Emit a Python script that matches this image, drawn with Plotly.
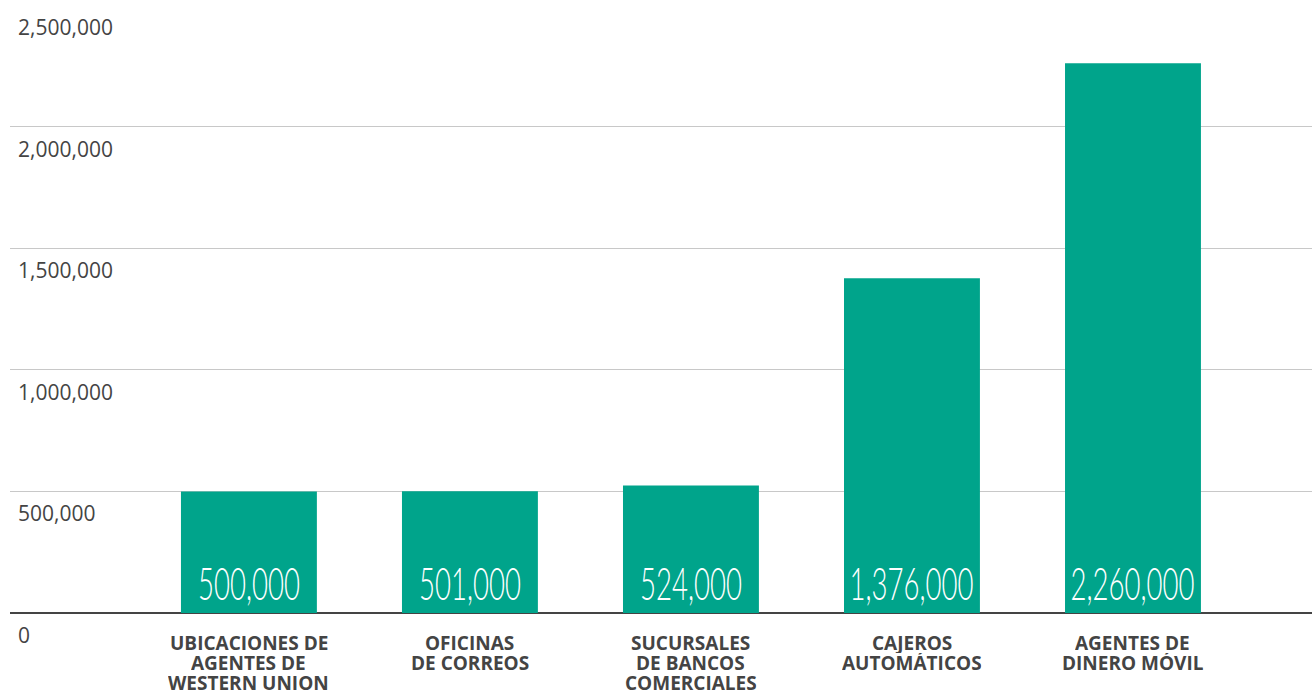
import plotly.graph_objects as go

categories = [
    "UBICACIONES DE<br>AGENTES DE<br>WESTERN UNION",
    "OFICINAS<br>DE CORREOS",
    "SUCURSALES<br>DE BANCOS<br>COMERCIALES",
    "CAJEROS<br>AUTOMÁTICOS",
    "AGENTES DE<br>DINERO MÓVIL",
]
values = [500000, 501000, 524000, 1376000, 2260000]
y_ticks = [0, 500000, 1000000, 1500000, 2000000, 2500000]

BAR = "#00a48b"
TEXT = "#444444"

x_pos = list(range(len(categories)))

fig = go.Figure(
    go.Bar(
        x=x_pos,
        y=values,
        width=0.615,
        marker=dict(color=BAR, line=dict(width=0)),
        hoverinfo="skip",
    )
)

annotations = []
# value labels sitting at the foot of each bar (condensed via post_script)
for xi, v in zip(x_pos, values):
    annotations.append(dict(
        x=xi, y=0, xref="x", yref="y",
        text=f"{v:,}", showarrow=False,
        xanchor="center", yanchor="middle", yshift=31,
        font=dict(family="Lato, sans-serif", size=46, color="white", weight=300),
    ))
n_value_labels = len(annotations)

# y-axis labels placed just below each gridline
for t in y_ticks:
    annotations.append(dict(
        x=0, y=t, xref="paper", yref="y",
        text=f"{t:,}", showarrow=False,
        xanchor="left", yanchor="middle", xshift=6, yshift=-22,
        font=dict(family="Open Sans, sans-serif", size=21, color=TEXT),
    ))

# category names, one line at a time for tight line spacing
for xi, name in zip(x_pos, categories):
    for i, line in enumerate(name.split("<br>")):
        annotations.append(dict(
            x=xi, y=0, xref="x", yref="y",
            text=line, showarrow=False,
            xanchor="center", yanchor="middle", yshift=-30 - 20 * i,
            height=20, borderpad=0, valign="middle",
            font=dict(family="Open Sans, sans-serif", size=19, color=TEXT, weight="bold"),
        ))

fig.update_layout(
    width=1312, height=692,
    margin=dict(l=10, r=0, t=5, b=79),
    paper_bgcolor="white", plot_bgcolor="white",
    showlegend=False,
    annotations=annotations,
    xaxis=dict(
        range=[-1.081, 4.81],
        tickvals=x_pos, showticklabels=False,
        showgrid=False, zeroline=False, ticks="", showline=False,
    ),
    yaxis=dict(
        range=[0, 2500000],
        tickvals=y_ticks, showticklabels=False,
        showgrid=True, gridcolor="#c8c8c8", gridwidth=1,
        zeroline=True, zerolinecolor="#444444", zerolinewidth=2,
        showline=False, ticks="",
    ),
)

# narrow the value labels horizontally to get a condensed numeral look
squeeze_js = """
var gd = document.getElementById('{plot_id}');
function squeeze() {
  gd.querySelectorAll('g.annotation').forEach(function (g) {
    var i = +g.getAttribute('data-index');
    if (i < %d) {
      var t = g.querySelector('text');
      t.style.transformBox = 'fill-box';
      t.style.transformOrigin = 'center';
      t.style.transform = 'scaleX(0.6)';
    }
  });
}
squeeze();
gd.on('plotly_afterplot', squeeze);
""" % n_value_labels

fig.write_html("out.html", post_script=squeeze_js)
